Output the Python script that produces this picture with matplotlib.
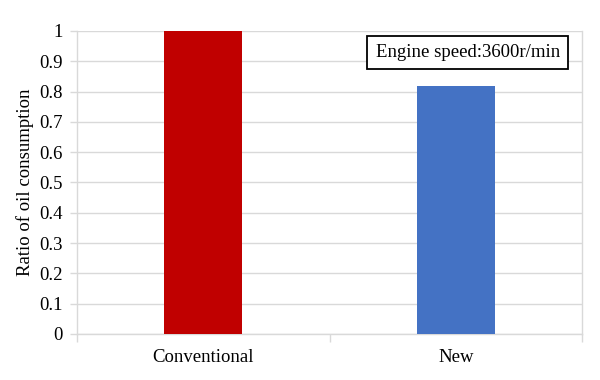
import matplotlib
matplotlib.use("Agg")
import matplotlib.pyplot as plt
from matplotlib.ticker import FixedLocator

categories = ["Conventional", "New"]
values = [1.0, 0.82]
colors = ["#C00000", "#4472C4"]
yticks = [0, 0.1, 0.2, 0.3, 0.4, 0.5, 0.6, 0.7, 0.8, 0.9, 1.0]
ytick_labels = ["0", "0.1", "0.2", "0.3", "0.4", "0.5", "0.6", "0.7", "0.8", "0.9", "1"]

plt.rcParams['font.family'] = ['Liberation Serif', 'DejaVu Serif']
FS = 13.5

fig = plt.figure(figsize=(6.0, 3.8), dpi=100)
ax = fig.add_axes([77/600, 1 - 334/380, (582-77)/600, (334-31)/380])

x = list(range(len(categories)))
ax.bar(x, values, width=0.31, color=colors, zorder=3)

ax.set_xlim(-0.5, len(categories) - 0.5)
ax.set_ylim(0, 1)
ax.set_yticks(yticks)
ax.set_yticklabels(ytick_labels, fontsize=FS)
ax.grid(axis='y', color='#D9D9D9', linewidth=1, zorder=0)

ax.set_xticks(x)
ax.set_xticklabels(categories, fontsize=FS)
ax.tick_params(axis='x', which='major', length=0, pad=11)
ax.xaxis.set_minor_locator(FixedLocator([-0.5, 0.5, 1.5]))
ax.tick_params(axis='x', which='minor', length=6, color='#D9D9D9', width=1)
ax.tick_params(axis='y', length=5, color='#D9D9D9', width=1, pad=5)

for s in ['left', 'bottom', 'right']:
    ax.spines[s].set_color('#D9D9D9')
    ax.spines[s].set_linewidth(1)
ax.spines['top'].set_visible(False)

ax.set_ylabel("Ratio of oil consumption", fontsize=FS, labelpad=4)

ax.text(0.774, 0.929, "Engine speed:3600r/min", transform=ax.transAxes,
        ha='center', va='center', fontsize=FS, zorder=5,
        bbox=dict(boxstyle='square,pad=0.45', facecolor='white', edgecolor='black', linewidth=1.3))

fig.savefig("out.png", dpi=100)
